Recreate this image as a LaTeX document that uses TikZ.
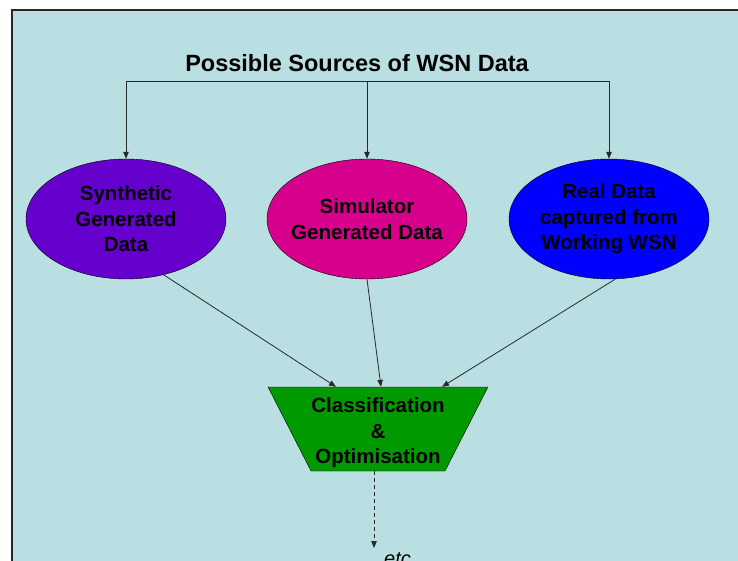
\documentclass[tikz,border=0pt]{standalone}
\usepackage{fontspec}
\setmainfont{Liberation Sans}
\usetikzlibrary{shapes.geometric,arrows.meta}
\definecolor{SlideBlue}{RGB}{186,223,226}
\definecolor{SrcPurple}{RGB}{102,0,204}
\definecolor{SrcMagenta}{RGB}{214,0,140}
\definecolor{SrcBlue}{RGB}{0,0,255}
\definecolor{ClassGreen}{RGB}{0,153,0}
\definecolor{LineGray}{RGB}{40,40,40}

\begin{document}
\begin{tikzpicture}[x=1pt, y=-1pt,
    source/.style={ellipse, draw=black, minimum width=200pt, minimum height=120pt, inner sep=0pt},
    srctext/.style={align=center, inner sep=0pt, font=\bfseries\fontsize{20.5}{25.5}\selectfont},
    link/.style={draw=LineGray, line width=0.8pt, -{Triangle[length=7pt,width=5.5pt]}}]
    \useasboundingbox (0,0) rectangle (738,561);

    % Slide background
    \fill[SlideBlue] (12,10) rectangle (738,561);
    \draw[LineGray, line width=1.5pt] (12,561) -- (12,10) -- (738,10);

    % Title
    \node[font=\bfseries\fontsize{23.5}{28}\selectfont] (title) at (357,63) {Possible Sources of WSN Data};
    \coordinate (split) at (367,81);

    % Data sources
    \node[source, fill=SrcPurple, label={[srctext]center:{Synthetic\\Generated\\Data}}] (synth) at (126,219) {};
    \node[source, fill=SrcMagenta, label={[srctext]center:{Simulator\\Generated Data}}] (sim) at (367,219) {};
    \node[source, fill=SrcBlue, label={[srctext]center:{Real Data\\captured from\\Working WSN}}] (real) at (609,219) {};

    % Classification block
    \node[trapezium, trapezium left angle=72.2, trapezium right angle=72.2, shape border rotate=180,
          trapezium stretches=true, minimum width=220pt, minimum height=84pt, inner sep=2pt,
          draw=black, fill=ClassGreen,
          label={[srctext, yshift=-4pt]center:{Classification\\\&\\Optimisation}}] (classify) at (378,429) {};

    % etc
    \coordinate (etcend) at (374,548);
    \node[anchor=base west, inner sep=0pt, font=\itshape\fontsize{20}{24}\selectfont] (etc) at (384,565) {etc};

    % Arrows
    \draw[link] (split) -| (synth);
    \draw[link] (split) -- (sim);
    \draw[link] (split) -| (real);
    \draw[link] (synth.-56) -- ([xshift=-42pt]classify.north);
    \draw[link] (sim.south) -- ([xshift=3pt]classify.north);
    \draw[link] (real.-84) -- ([xshift=64pt]classify.north);
    \draw[link, dash pattern=on 4pt off 3pt] ([xshift=-4pt]classify.south) -- (etcend);
\end{tikzpicture}
\end{document}
